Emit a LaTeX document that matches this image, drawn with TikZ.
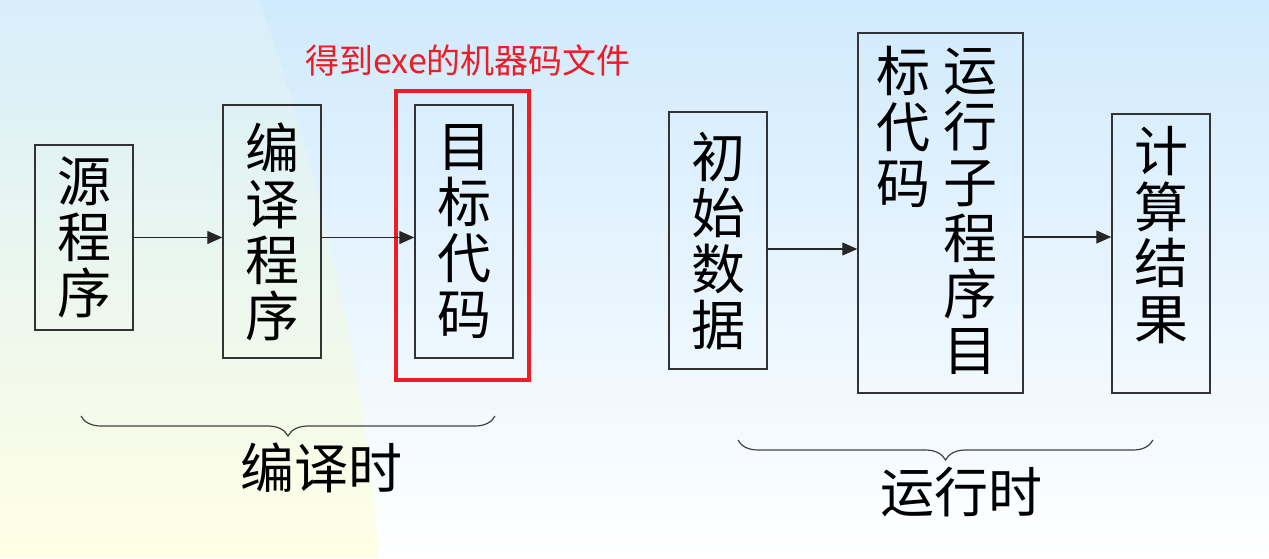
\documentclass[tikz,border=0pt]{standalone}
\usepackage{fontspec}
\setmainfont{Noto Sans CJK SC}
\usepackage{xcolor}
\usepackage{tikz}
\usetikzlibrary{arrows.meta,calc,decorations.pathreplacing}
\newcommand{\bigcjk}{\fontsize{54}{56}\selectfont}
\newcommand{\notecjk}{\fontsize{34}{37}\selectfont}
\definecolor{exered}{RGB}{238,28,37}
\definecolor{skytop}{RGB}{208,234,253}
\definecolor{leftsky}{RGB}{216,238,250}
\definecolor{leftsand}{RGB}{255,255,228}
\definecolor{boxline}{RGB}{51,51,51}
\tikzset{
    blockbox/.style={
        draw=boxline,
        line width=1.5pt,
        align=center,
        inner sep=0pt,
        font=\bigcjk
    },
    plaintext/.style={
        align=center,
        inner sep=0pt,
        font=\bigcjk
    },
    redframe/.style={
        draw=exered,
        line width=3.5pt,
        inner sep=0pt
    },
    arrow/.style={
        -{Triangle[length=15pt,width=13pt]},
        line width=1.2pt,
        draw=black!85
    },
    timebrace/.style={
        decorate,
        decoration={brace,mirror,amplitude=20pt},
        line width=1.2pt,
        draw=black!75
    }
}
\begin{document}
\begin{tikzpicture}[x=1pt,y=-1pt]
    \useasboundingbox (0,0) rectangle (1269,558);
    \shade[top color=skytop, bottom color=white]
        (0,0) rectangle (1269,558);
    \shade[top color=leftsky, bottom color=leftsand]
        (0,0) -- (259,0)
        .. controls (310,140) and (370,380) .. (378,558)
        -- (0,558) -- cycle;

    \node[blockbox, minimum width=98pt, minimum height=185pt] (src)
        at (84,237.5) {源\\程\\序};
    \node[blockbox, minimum width=98pt, minimum height=253pt] (comp)
        at (272,231.5) {编\\译\\程\\序};
    \node[blockbox, minimum width=98pt, minimum height=253pt] (obj)
        at (464,231.5) {目\\标\\代\\码};
    \node[redframe, minimum width=133pt, minimum height=289pt] (exeframe)
        at (462.5,235.5) {};
    \node[text=exered, font=\notecjk, inner sep=0pt] (exenote)
        at (468,60) {得到exe的机器码文件};

    \node[blockbox, minimum width=98pt, minimum height=257pt] (init)
        at (718,240.5) {初\\始\\数\\据};
    \node[blockbox, minimum width=165pt, minimum height=360pt] (run)
        at (940.5,213) {};
    \node[plaintext] (runleft) at (903,127) {标\\代\\码};
    \node[plaintext] (runright) at (970,211.5) {运\\行\\子\\程\\序\\目};
    \node[blockbox, minimum width=98pt, minimum height=279pt] (res)
        at (1161,253.5) {};
    \node[plaintext] (restext) at (1161,235) {计\\算\\结\\果};

    \coordinate (inrow) at ($(init.east)+(0,8.5)$);
    \coordinate (outrow) at ($(run.east)+(0,24)$);
    \draw[arrow] (src.east) -- (src.east -| comp.west);
    \draw[arrow] (comp.east |- src.east) -- (obj.west |- src.east);
    \draw[arrow] (inrow) -- (inrow -| run.west);
    \draw[arrow] (outrow) -- (outrow -| res.west);

    \coordinate (cbl) at (81,416);
    \coordinate (cbr) at (495,416);
    \coordinate (rbl) at (738,440);
    \coordinate (rbr) at (1153,440);
    \draw[timebrace] (cbl) -- (cbr);
    \draw[timebrace] (rbl) -- (rbr);
    \node[plaintext] (ctime) at (321,468) {编译时};
    \node[plaintext] (rtime) at (961,492) {运行时};
\end{tikzpicture}
\end{document}
